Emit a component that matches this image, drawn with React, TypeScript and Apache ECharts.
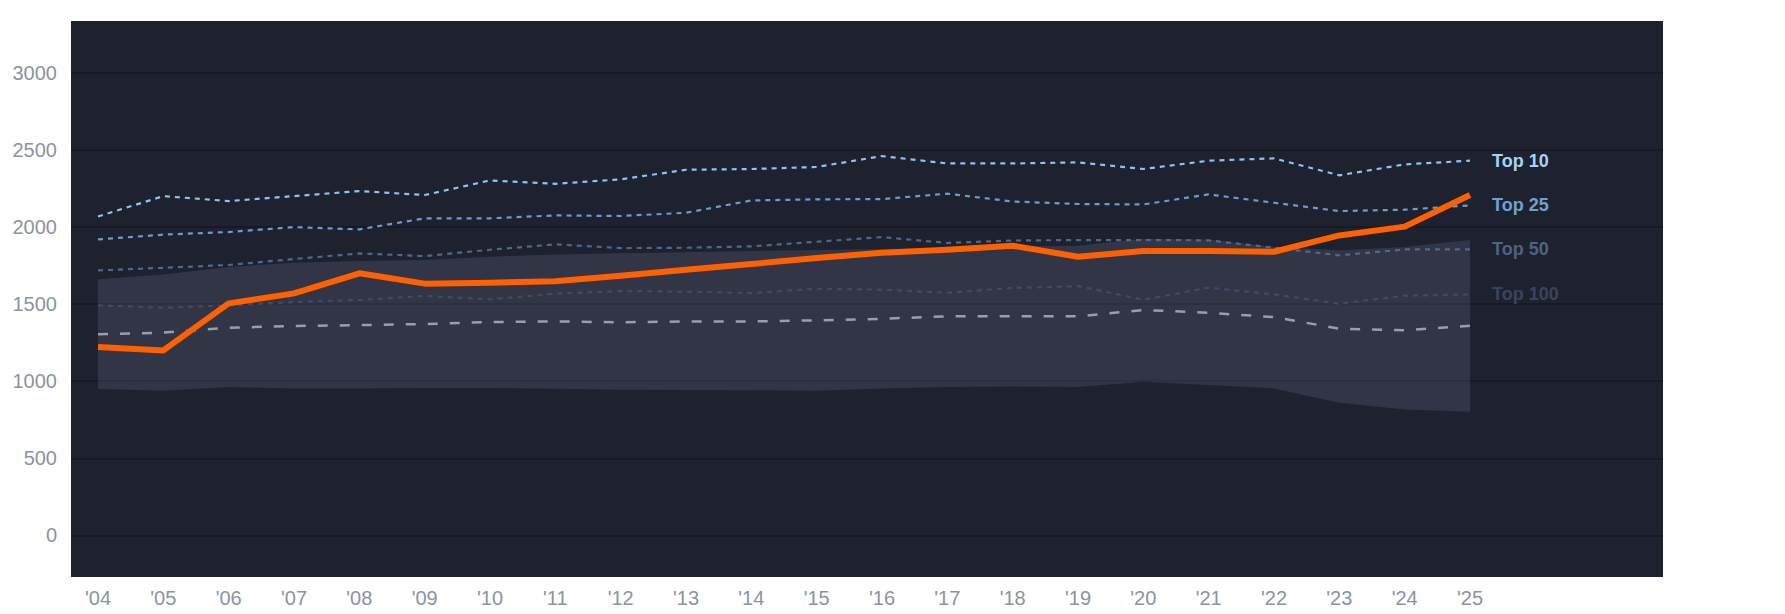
import React, { useEffect, useRef } from "react";
import * as echarts from "echarts";

const years = ["'04","'05","'06","'07","'08","'09","'10","'11","'12","'13","'14","'15","'16","'17","'18","'19","'20","'21","'22","'23","'24","'25"];

const top10 = [2069, 2201, 2169, 2201, 2234, 2208, 2303, 2281, 2310, 2372, 2377, 2390, 2461, 2413, 2413, 2420, 2377, 2431, 2446, 2336, 2407, 2431];
const top25 = [1920, 1951, 1968, 2000, 1985, 2057, 2057, 2076, 2072, 2093, 2173, 2180, 2182, 2217, 2166, 2150, 2147, 2212, 2158, 2104, 2113, 2141];
const top50 = [1719, 1736, 1754, 1793, 1829, 1812, 1853, 1888, 1864, 1866, 1875, 1905, 1935, 1897, 1913, 1916, 1916, 1914, 1866, 1817, 1855, 1855];
const top100 = [1492, 1477, 1492, 1514, 1527, 1553, 1531, 1568, 1585, 1581, 1572, 1600, 1594, 1574, 1605, 1617, 1529, 1607, 1563, 1503, 1555, 1563];
const median = [1304, 1315, 1347, 1358, 1364, 1371, 1384, 1388, 1382, 1388, 1388, 1395, 1405, 1421, 1422, 1421, 1462, 1444, 1416, 1341, 1330, 1360];
const highlight = [1222, 1200, 1505, 1570, 1700, 1633, 1639, 1648, 1685, 1723, 1760, 1799, 1834, 1853, 1879, 1808, 1845, 1845, 1840, 1946, 2003, 2208];
const bandUpper = [1661, 1693, 1741, 1769, 1780, 1786, 1808, 1823, 1830, 1836, 1845, 1851, 1858, 1866, 1875, 1879, 1925, 1920, 1871, 1849, 1871, 1916];
const bandLower = [949, 938, 962, 953, 953, 956, 956, 951, 945, 943, 941, 938, 953, 962, 966, 962, 997, 975, 953, 860, 817, 802];

const yTicks = { min: 0, max: 3000, interval: 500 };

const FONT = "'Liberation Sans', Arial, Helvetica, sans-serif";
const LABEL_GRAY = "#8b93a3";

function rankSeries(name: string, data: number[], lineColor: string, labelColor: string) {
  return {
    name,
    type: "line",
    xAxisIndex: 0,
    yAxisIndex: 0,
    data,
    symbol: "none",
    showSymbol: false,
    silent: true,
    z: 3,
    lineStyle: { color: lineColor, width: 2.2, type: [5, 5] },
    endLabel: {
      show: true,
      formatter: () => name,
      color: labelColor,
      fontSize: 18,
      fontWeight: "bold",
      fontFamily: FONT,
      distance: 22,
    },
  };
}

export default function App() {
  const ref = useRef<HTMLDivElement>(null);

  useEffect(() => {
    if (!ref.current) return;
    const chart = echarts.init(ref.current, undefined, { renderer: "svg" });
    const bandSpan = bandUpper.map((u, i) => u - bandLower[i]);

    const option: any = {
      animation: false,
      backgroundColor: "#ffffff",
      textStyle: { fontFamily: FONT },
      graphic: [
        {
          type: "rect",
          z: -10,
          silent: true,
          shape: { x: 71, y: 21, width: 1592, height: 556 },
          style: { fill: "#1e212e" },
        },
      ],
      grid: [
        { left: 98, right: 315, top: 73, bottom: 78.7 },
        { left: 71, right: 122, top: 73, bottom: 78.7 },
      ],
      xAxis: [
        {
          type: "category",
          gridIndex: 0,
          data: years,
          boundaryGap: false,
          offset: 42,
          axisLine: { show: false },
          axisTick: { show: false },
          splitLine: { show: false },
          axisLabel: { color: LABEL_GRAY, fontSize: 20, margin: 11, fontFamily: FONT, interval: 0 },
        },
        { type: "value", gridIndex: 1, show: false, splitLine: { show: false } },
      ],
      yAxis: [
        { type: "value", gridIndex: 0, ...yTicks, show: false, splitLine: { show: false } },
        {
          type: "value",
          gridIndex: 1,
          ...yTicks,
          axisLine: { show: false },
          axisTick: { show: false },
          axisLabel: {
            color: LABEL_GRAY,
            fontSize: 20,
            margin: 14,
            fontFamily: FONT,
            formatter: (v: number) => String(v),
          },
          splitLine: { show: true, lineStyle: { color: "#171a25", width: 2 } },
        },
      ],
      series: [
        {
          name: "bandBase",
          type: "line",
          xAxisIndex: 0,
          yAxisIndex: 0,
          data: bandLower,
          stack: "band",
          symbol: "none",
          silent: true,
          z: 1,
          lineStyle: { opacity: 0, width: 0 },
        },
        {
          name: "bandSpan",
          type: "line",
          xAxisIndex: 0,
          yAxisIndex: 0,
          data: bandSpan,
          stack: "band",
          symbol: "none",
          silent: true,
          z: 1,
          lineStyle: { opacity: 0, width: 0 },
          areaStyle: { color: "rgba(150,160,195,0.16)", opacity: 1 },
        },
        rankSeries("Top 100", top100, "#3f4b66", "#3a455d"),
        rankSeries("Top 50", top50, "#50688a", "#4e6383"),
        rankSeries("Top 25", top25, "#6b9dca", "#6da2d0"),
        rankSeries("Top 10", top10, "#8ec4ec", "#a6d4f6"),
        {
          name: "Median",
          type: "line",
          xAxisIndex: 0,
          yAxisIndex: 0,
          data: median,
          symbol: "none",
          silent: true,
          z: 4,
          lineStyle: { color: "#9b9ea7", width: 2.5, type: [10, 12] },
        },
        {
          name: "Highlight",
          type: "line",
          xAxisIndex: 0,
          yAxisIndex: 0,
          data: highlight,
          symbol: "none",
          silent: true,
          z: 5,
          lineStyle: { color: "#ff6000", width: 6, join: "round" },
        },
      ],
    };

    chart.setOption(option);
    return () => chart.dispose();
  }, []);

  return (
    <div
      ref={ref}
      style={{ position: "fixed", left: 0, top: 0, width: 1785, height: 614 }}
    />
  );
}
